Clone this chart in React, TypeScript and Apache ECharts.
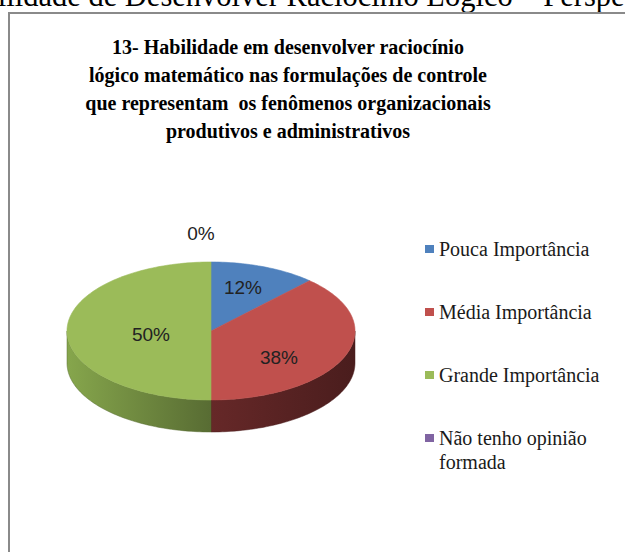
import React, { useEffect, useRef } from 'react';
import * as echarts from 'echarts';

const categories = ['Pouca Importância', 'Média Importância', 'Grande Importância', 'Não tenho opinião formada'];
const values = [12, 38, 50, 0];
const colors = ['#4F81BD', '#C0504D', '#9BBB59', '#8064A2'];
const sideColors = [
  ['#35577f', '#2a4566'],
  ['#662828', '#4a1d1d'],
  ['#86a64c', '#586c33'],
  ['#57446f', '#443558'],
];
const titleLines = [
  '13- Habilidade em desenvolver raciocínio',
  'lógico matemático nas formulações de controle',
  'que representam  os fenômenos organizacionais',
  'produtivos e administrativos',
];
const headerText = 'Habilidade de Desenvolver Raciocínio Lógico – Perspectiva';

// layout constants
const CX = 211, CY = 331, RX = 144, RY = 69, DEPTH = 32;
const LABEL_POS = [[243, 287], [279, 357], [151, 334], [201, 233]];

const SERIF = '"Liberation Serif", "Times New Roman", serif';
const SANS = '"Liberation Sans", Arial, sans-serif';

function arcPts(a0: number, a1: number, dy: number) {
  const n = Math.max(2, Math.ceil(Math.abs(a1 - a0) / 0.02));
  const pts: number[][] = [];
  for (let k = 0; k <= n; k++) {
    const t = a0 + ((a1 - a0) * k) / n;
    pts.push([CX + RX * Math.sin(t), CY - RY * Math.cos(t) + dy]);
  }
  return pts;
}

export default function App() {
  const ref = useRef<HTMLDivElement>(null);
  useEffect(() => {
    if (!ref.current) return;
    const chart = echarts.init(ref.current, undefined, { renderer: 'svg' });
    const total = values.reduce((a, b) => a + b, 0);
    const starts: number[] = [];
    let acc = 0;
    values.forEach((v) => { starts.push(acc); acc += v; });

    const option: any = {
      animation: false,
      backgroundColor: '#ffffff',
      legend: {
        orient: 'vertical',
        left: 425,
        top: 237,
        padding: 0,
        itemGap: 39,
        itemWidth: 9,
        itemHeight: 8,
        itemTextGap: 5,
        icon: 'rect',
        data: categories,
        formatter: (name: string) => (name === categories[3] ? 'Não tenho opinião' : name),
        textStyle: { fontFamily: SERIF, fontSize: 20, color: '#1a1a1a', lineHeight: 24 },
        selectedMode: false,
      },
      graphic: [
        {
          type: 'text',
          x: 0,
          y: 0,
          style: { text: headerText, x: -53, y: -4, fontFamily: SERIF, fontSize: 30.5, fill: '#000', verticalAlign: 'middle' },
        },
        {
          type: 'rect',
          shape: { x: 9, y: 13, width: 700, height: 600 },
          style: { fill: 'none', stroke: '#8a8a8a', lineWidth: 2 },
        },
        ...titleLines.map((t, i) => ({
          type: 'text',
          x: 288,
          y: 47 + i * 28,
          style: {
            text: t, fontFamily: SERIF, fontWeight: 'bold', fontSize: 20, fill: '#000',
            align: 'center', verticalAlign: 'middle',
          },
        })),
        {
          type: 'text',
          x: 439,
          y: 462,
          style: { text: 'formada', fontFamily: SERIF, fontSize: 20, fill: '#1a1a1a', verticalAlign: 'middle' },
        },
      ],
      series: [
        {
          type: 'pie',
          name: 'legendProvider',
          radius: [0, 0],
          center: [-50, -50],
          silent: true,
          label: { show: false },
          labelLine: { show: false },
          data: categories.map((c, i) => ({ name: c, value: values[i], itemStyle: { color: colors[i] } })),
        },
        {
          type: 'custom',
          coordinateSystem: 'none',
          silent: true,
          data: values.map((v, i) => [v, i]),
          renderItem: (params: any, api: any) => {
            const i = params.dataIndex;
            const v = api.value(0);
            const a0 = (starts[i] / total) * Math.PI * 2;
            const a1 = a0 + (v / total) * Math.PI * 2;
            const children: any[] = [];
            if (v > 0) {
              const s0 = Math.max(a0, Math.PI / 2);
              const s1 = Math.min(a1, (Math.PI * 3) / 2);
              if (s1 > s0) {
                const topArc = arcPts(s0, s1, 0);
                const botArc = arcPts(s1, s0, DEPTH);
                const c = sideColors[i];
                children.push({
                  type: 'polygon',
                  shape: { points: topArc.concat(botArc) },
                  style: {
                    fill: new echarts.graphic.LinearGradient(0, 0, 1, 0, [
                      { offset: 0, color: c[0] }, { offset: 1, color: c[1] },
                    ]),
                    stroke: c[1], lineWidth: 0.5,
                  },
                });
              }
              const pts = [[CX, CY]].concat(arcPts(a0, a1, 0));
              children.push({
                type: 'polygon',
                shape: { points: pts },
                style: { fill: colors[i], stroke: colors[i], lineWidth: 0.6 },
              });
            }
            children.push({
              type: 'text',
              x: LABEL_POS[i][0],
              y: LABEL_POS[i][1],
              z2: 10,
              style: {
                text: Math.round((v / total) * 100) + '%',
                fontFamily: SANS, fontSize: 19, fill: '#222',
                align: 'center', verticalAlign: 'middle',
              },
            });
            return { type: 'group', children };
          },
        },
      ],
    };
    chart.setOption(option);
    return () => chart.dispose();
  }, []);
  return <div ref={ref} style={{ position: 'absolute', left: 0, top: 0, width: 625, height: 552 }} />;
}
